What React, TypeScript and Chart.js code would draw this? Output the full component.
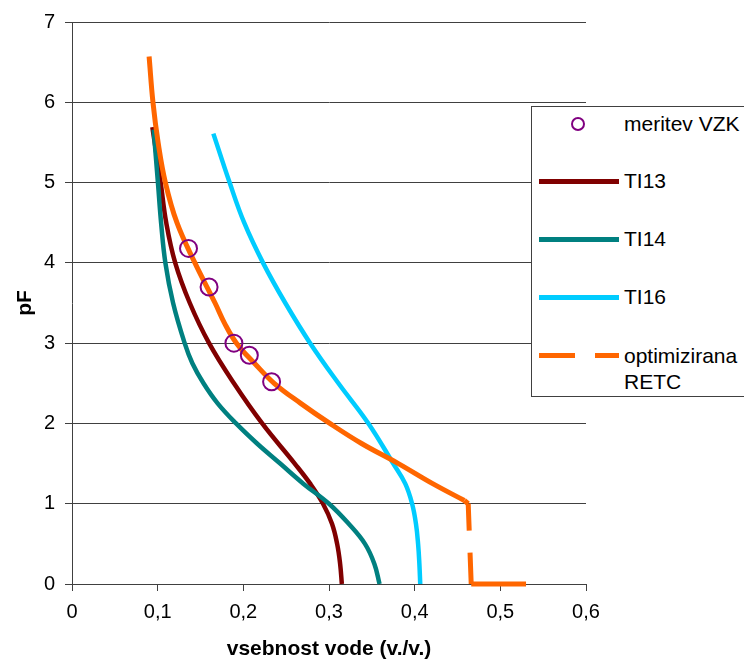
import React, { useEffect, useRef } from 'react';
import { Chart, registerables } from 'chart.js';

Chart.register(...registerables);

const FONT = "'Liberation Sans', Arial, Helvetica, sans-serif";

// x axis: vsebnost vode (v./v.), y axis: pF
const xTickLabels = ['0', '0,1', '0,2', '0,3', '0,4', '0,5', '0,6'];
const yTickLabels = ['0', '1', '2', '3', '4', '5', '6', '7'];

// meritev VZK
const meritevX = [0.136, 0.160, 0.189, 0.207, 0.233];
const meritevPF = [4.18, 3.70, 3.00, 2.85, 2.52];

// TI13
const ti13X = [0.0938, 0.1035, 0.110, 0.1205, 0.1375, 0.160, 0.189, 0.222, 0.260, 0.278, 0.293, 0.3035, 0.3095, 0.313, 0.315];
const ti13PF = [5.69, 5.00, 4.50, 4.00, 3.50, 3.00, 2.50, 2.00, 1.50, 1.25, 1.00, 0.75, 0.50, 0.25, 0.00];

// TI14
const ti14X = [0.0953, 0.1003, 0.104, 0.109, 0.118, 0.1315, 0.1405, 0.1535, 0.170, 0.1915, 0.216, 0.243, 0.270, 0.300, 0.323, 0.342, 0.353, 0.359];
const ti14PF = [5.66, 5.00, 4.50, 4.00, 3.50, 3.00, 2.75, 2.50, 2.25, 2.00, 1.75, 1.50, 1.25, 1.00, 0.75, 0.50, 0.25, 0.00];

// TI16
const ti16X = [0.165, 0.184, 0.201, 0.223, 0.249, 0.278, 0.311, 0.346, 0.375, 0.389, 0.397, 0.4015, 0.404, 0.4055, 0.4065];
const ti16PF = [5.61, 5.00, 4.50, 4.00, 3.50, 3.00, 2.50, 2.00, 1.50, 1.25, 1.00, 0.75, 0.50, 0.25, 0.00];

// optimizirana RETC: smooth retention curve ...
const retcX = [0.090, 0.0945, 0.1005, 0.109, 0.1225, 0.1435, 0.167, 0.178, 0.192, 0.213, 0.236, 0.267, 0.301, 0.338, 0.381, 0.421, 0.458];
const retcPF = [6.57, 6.00, 5.50, 5.00, 4.50, 4.00, 3.50, 3.25, 3.00, 2.75, 2.50, 2.25, 2.00, 1.75, 1.50, 1.25, 1.04];
// ... and its near-saturated tail (sharp corners, no smoothing)
const retcTailX = [0.458, 0.4625, 0.466, 0.530];
const retcTailPF = [1.04, 1.00, 0.00, 0.00];

const COLORS = {
  meritev: '#800080',
  ti13: '#800000',
  ti14: '#008080',
  ti16: '#00CCFF',
  retc: '#FF6600',
  axis: '#404040',
};

const toPoints = (xs: number[], ys: number[]) => xs.map((x, i) => ({ x, y: ys[i] }));

// the steep drop of the RETC tail is the only part where the dash pattern shows
const retcDashStart = retcTailPF.findIndex((v) => v <= 1.0);

const curve = (label: string, xs: number[], ys: number[], color: string, width: number, order: number) => ({
  label,
  data: toPoints(xs, ys),
  showLine: true,
  borderColor: color,
  backgroundColor: color,
  borderWidth: width,
  pointRadius: 0,
  tension: 0.4,
  clip: false,
  order,
});

export default function App() {
  const canvasRef = useRef<HTMLCanvasElement | null>(null);

  useEffect(() => {
    const canvas = canvasRef.current;
    if (!canvas) return;

    const chart = new Chart(canvas, {
      type: 'scatter',
      data: {
        datasets: [
          {
            label: 'meritev VZK',
            data: toPoints(meritevX, meritevPF),
            showLine: false,
            pointStyle: 'circle',
            pointRadius: 8.5,
            pointBorderWidth: 2,
            pointBorderColor: COLORS.meritev,
            pointBackgroundColor: 'rgba(0,0,0,0)',
            borderColor: COLORS.meritev,
            order: 0,
          },
          curve('optimizirana RETC', retcX, retcPF, COLORS.retc, 5, 1),
          {
            ...curve('optimizirana RETC', retcTailX, retcTailPF, COLORS.retc, 5, 1),
            tension: 0,
            segment: {
              borderDash: (ctx: any) => (ctx.p0DataIndex === retcDashStart ? [27, 22, 60, 0] : undefined),
            },
          },
          curve('TI16', ti16X, ti16PF, COLORS.ti16, 4.5, 2),
          curve('TI14', ti14X, ti14PF, COLORS.ti14, 4.5, 3),
          curve('TI13', ti13X, ti13PF, COLORS.ti13, 4.5, 4),
        ],
      },
      options: {
        responsive: false,
        animation: false,
        events: [],
        layout: { padding: { top: 22, right: 158, left: 0, bottom: 0 } },
        plugins: {
          legend: { display: false },
          tooltip: { enabled: false },
        },
        scales: {
          x: {
            type: 'linear',
            min: 0,
            max: 0.6,
            afterFit: (scale: any) => {
              scale.height = 78;
            },
            afterBuildTicks: (scale: any) => {
              scale.ticks = xTickLabels.map((_, i) => ({ value: i / 10 }));
            },
            ticks: {
              autoSkip: false,
              maxRotation: 0,
              padding: 9,
              color: '#000',
              font: { family: FONT, size: 20 },
              callback: (_v: any, i: number) => xTickLabels[i],
            },
            grid: {
              drawOnChartArea: false,
              drawTicks: true,
              tickLength: 7,
              color: COLORS.axis,
            },
            border: { display: true, color: COLORS.axis, width: 1 },
            title: {
              display: true,
              text: 'vsebnost vode (v./v.)',
              color: '#000',
              font: { family: FONT, size: 21, weight: 'bold' },
              padding: { top: 0, bottom: 0 },
            },
          },
          y: {
            type: 'linear',
            min: 0,
            max: 7,
            afterFit: (scale: any) => {
              scale.width = 72;
            },
            afterBuildTicks: (scale: any) => {
              scale.ticks = yTickLabels.map((_, i) => ({ value: i }));
            },
            ticks: {
              autoSkip: false,
              padding: 10,
              color: '#000',
              font: { family: FONT, size: 20 },
              callback: (_v: any, i: number) => yTickLabels[i],
            },
            grid: {
              drawOnChartArea: true,
              drawTicks: true,
              tickLength: 7,
              color: COLORS.axis,
              lineWidth: 1,
            },
            border: { display: true, color: COLORS.axis, width: 1 },
            title: {
              display: true,
              text: 'pF',
              color: '#000',
              font: { family: FONT, size: 21, weight: 'bold' },
              padding: { top: 13, bottom: 0 },
            },
          },
        },
      },
    } as any);

    return () => chart.destroy();
  }, []);

  const textStyle: React.CSSProperties = {
    position: 'absolute',
    left: 92,
    fontFamily: FONT,
    fontSize: 21,
    lineHeight: '24px',
    color: '#000',
    whiteSpace: 'nowrap',
  };

  const lineItem = (label: string, color: string, cy: number) => (
    <React.Fragment key={label}>
      <div
        style={{
          position: 'absolute',
          left: 7,
          top: cy - 2,
          width: 80,
          height: 4.5,
          background: color,
        }}
      />
      <div style={{ ...textStyle, top: cy - 12 }}>{label}</div>
    </React.Fragment>
  );

  // legend box, drawn over the right part of the plot
  return (
    <div
      style={{
        position: 'absolute',
        left: 0,
        top: 0,
        width: 744,
        height: 662,
        overflow: 'hidden',
        background: '#fff',
      }}
    >
      <canvas ref={canvasRef} width={744} height={662} style={{ display: 'block' }} />
      <div
        style={{
          position: 'absolute',
          left: 531,
          top: 106,
          width: 240,
          height: 291,
          border: `1px solid ${COLORS.axis}`,
          background: '#fff',
          boxSizing: 'border-box',
        }}
      >
        <div
          style={{
            position: 'absolute',
            left: 39,
            top: 10,
            width: 10,
            height: 10,
            borderRadius: '50%',
            border: `2px solid ${COLORS.meritev}`,
          }}
        />
        <div style={{ ...textStyle, top: 5 }}>meritev VZK</div>
        {lineItem('TI13', COLORS.ti13, 74)}
        {lineItem('TI14', COLORS.ti14, 132)}
        {lineItem('TI16', COLORS.ti16, 190)}
        <div style={{ position: 'absolute', left: 7, top: 246, width: 36, height: 5, background: COLORS.retc }} />
        <div style={{ position: 'absolute', left: 63, top: 246, width: 24, height: 5, background: COLORS.retc }} />
        <div style={{ ...textStyle, top: 236, lineHeight: '26px' }}>
          optimizirana
          <br />
          RETC
        </div>
      </div>
    </div>
  );
}
